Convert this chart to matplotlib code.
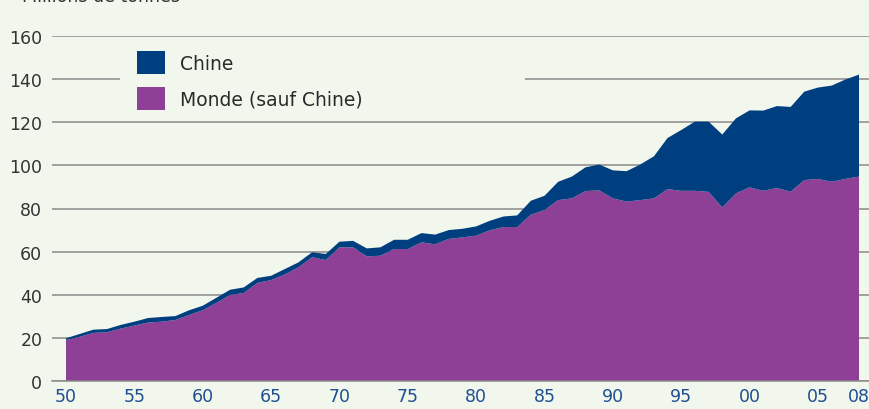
import matplotlib
matplotlib.use('Agg')
import matplotlib.pyplot as plt
import matplotlib.patches as mpatches

# Production, millions de tonnes
years = list(range(1950, 2009))
monde = [19.0, 20.5, 22.3, 22.6, 24.3, 25.7, 27.1, 27.5, 28.3, 30.6,
         32.8, 36.2, 39.9, 40.8, 45.5, 46.8, 49.4, 52.7, 57.4, 56.1,
         62.0, 62.0, 57.8, 58.1, 61.2, 61.2, 64.3, 63.4, 65.9, 66.6,
         67.4, 69.9, 71.4, 71.4, 77.1, 79.3, 83.9, 84.7, 88.1, 88.4,
         84.7, 83.2, 83.9, 84.7, 89.0, 88.2, 88.2, 87.7, 80.5, 87.0,
         89.8, 88.2, 89.5, 87.8, 93.2, 93.7, 92.4, 93.7, 94.8]
chine = [0.8, 1.3, 1.5, 1.5, 1.7, 1.8, 2.1, 2.2, 1.8, 2.2,
         2.1, 2.4, 2.4, 2.6, 2.3, 2.0, 2.5, 2.3, 2.3, 2.8,
         2.6, 3.0, 3.7, 3.9, 4.3, 4.3, 4.3, 4.5, 4.1, 4.0,
         4.3, 4.4, 4.9, 5.4, 6.5, 6.6, 8.5, 10.1, 11.0, 12.0,
         13.0, 14.1, 16.5, 19.5, 23.7, 28.2, 32.1, 32.6, 33.8, 34.8,
         35.7, 37.2, 38.0, 39.3, 41.0, 42.4, 44.6, 46.1, 47.3]

xticks = [1950, 1955, 1960, 1965, 1970, 1975, 1980, 1985, 1990, 1995, 2000, 2005, 2008]
xticklabels = ['50', '55', '60', '65', '70', '75', '80', '85', '90', '95', '00', '05', '08']
yticks = [0, 20, 40, 60, 80, 100, 120, 140, 160]

BG = '#f2f7ee'
BLUE = '#003f7f'
PURPLE = '#8e3f96'
GRID = '#8a8a8a'

W, H = 870, 410
AX_L, AX_R, AX_T, AX_B = 52, 870, 37, 382
fig = plt.figure(figsize=(W / 100, H / 100), dpi=100, facecolor=BG)
ax = fig.add_axes([AX_L / W, 1 - AX_B / H, (AX_R - AX_L) / W, (AX_B - AX_T) / H])
ax.set_facecolor(BG)


def ax_xy(px, py):
    """pixel position in the figure -> axes fraction"""
    return (px - AX_L) / (AX_R - AX_L), (AX_B - py) / (AX_B - AX_T)


ax.stackplot(years, monde, chine, colors=[PURPLE, BLUE],
             labels=['Monde (sauf Chine)', 'Chine'], zorder=3, linewidth=0)

px_per_year = 13.67
ax.set_xlim(1950 - 14 / px_per_year, 2008 + 11 / px_per_year)
ax.set_ylim(0, 160)

ax.set_yticks(yticks)
ax.set_yticklabels([str(v) for v in yticks], fontsize=12.5, color='#333333')
ax.set_xticks(xticks)
ax.set_xticklabels(xticklabels, fontsize=12.5, color='#1f4f8f')
ax.tick_params(axis='both', length=0)
ax.tick_params(axis='y', pad=7)
ax.tick_params(axis='x', pad=4)

ax.yaxis.grid(True, color=GRID, linewidth=1.1, zorder=1)
ax.set_axisbelow(True)
for name, sp in ax.spines.items():
    sp.set_visible(name == 'bottom')
ax.spines['bottom'].set_color(GRID)
ax.spines['bottom'].set_linewidth(1.1)
ax.spines['bottom'].set_zorder(4)

# background block behind the legend (hides part of the 140 gridline)
bx0, by1 = ax_xy(120, 45)
bx1, by0 = ax_xy(525, 115)
ax.add_patch(mpatches.Rectangle((bx0, by0), bx1 - bx0, by1 - by0,
                                transform=ax.transAxes, facecolor=BG,
                                edgecolor='none', zorder=2))

handles, labels = ax.get_legend_handles_labels()
lx, ly = ax_xy(137, 52)
leg = ax.legend(handles[::-1], labels[::-1], loc='upper left',
                bbox_to_anchor=(lx, ly), frameon=False, fontsize=13.5,
                handlelength=1.5, handleheight=1.5, handletextpad=0.8,
                labelspacing=0.7, borderpad=0, borderaxespad=0,
                labelcolor='#2a2a2a')
leg.set_zorder(5)

fig.text(22 / W, 1 - 2 / H, 'Millions de tonnes', fontsize=12.5,
         color='#333333', va='baseline', ha='left')

fig.savefig('out.png', dpi=100, facecolor=BG)
